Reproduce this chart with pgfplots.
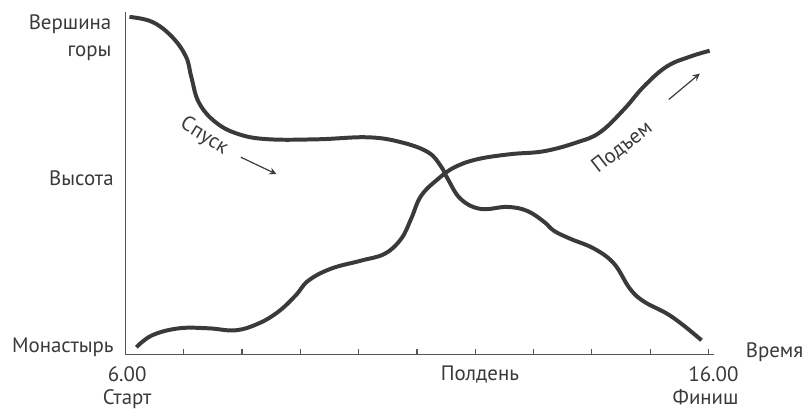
\documentclass[border=0pt]{standalone}
\usepackage{pgfplots}
\pgfplotsset{compat=1.18}
\usepackage{fontspec}
\setmainfont{PT Sans}
\definecolor{ink}{HTML}{3A3A3A}
\definecolor{axisgray}{HTML}{555555}
\begin{document}
\begin{tikzpicture}
\begin{axis}[
  at={(0,0)}, anchor=south west,
  scale only axis, width=296pt, height=172pt,
  xmin=6, xmax=16.1, ymin=0, ymax=344,
  axis lines=left,
  axis line style={axisgray, line width=0.6pt, -},
  xtick={6,...,16}, xticklabels={},
  ytick=\empty,
  major tick length=2.5pt,
  tick style={axisgray, line width=0.6pt},
  xtick align=inside,
  clip=false,
]
% Descent (Спуск)
\addplot[ink, line width=2pt, smooth, tension=0.65] coordinates {
(6.07,339) (6.46,334) (6.80,319) (7.04,299) (7.13,279) (7.26,253) (7.55,233)
(7.95,221) (8.46,216) (9.31,216) (10.16,218) (10.73,213) (11.19,203) (11.41,189)
(11.53,176) (11.75,156) (12.09,146) (12.55,148) (12.89,144) (13.18,133) (13.35,124)
(13.63,116) (14.04,106) (14.38,91) (14.65,66) (14.89,53) (15.28,41) (15.57,29) (15.88,14)
};
% Ascent (Подъем)
\addplot[ink, line width=2pt, smooth, tension=0.65] coordinates {
(6.19,7) (6.46,19) (6.92,26) (7.43,26) (7.89,24) (8.29,31) (8.63,43) (8.92,59)
(9.14,74) (9.53,86) (10.04,94) (10.45,101) (10.73,116) (10.90,136) (11.07,159)
(11.36,176) (11.65,188) (12.04,196) (12.60,201) (13.18,204) (13.75,213) (14.14,223)
(14.55,246) (14.89,269) (15.28,289) (15.68,299) (16.02,305)
};
% annotations
\node[ink, rotate=-32, font=\fontsize{10.5}{12}\selectfont] at (axis cs:7.35,219) {Спуск};
\draw[ink, line width=0.6pt, -stealth] (axis cs:7.98,198) -- (axis cs:8.59,181);
\node[ink, rotate=38, font=\fontsize{10.5}{12}\selectfont] at (axis cs:14.52,208) {Подъем};
\draw[ink, line width=0.6pt, -stealth] (axis cs:15.32,256) -- (axis cs:15.85,282);
% y labels
\node[ink, anchor=east, align=right, font=\fontsize{10.5}{13.5}\selectfont] at (axis cs:5.88,318) {Вершина\\горы};
\node[ink, anchor=east, font=\fontsize{10.5}{13}\selectfont] at (axis cs:5.92,177) {Высота};
\node[ink, anchor=east, font=\fontsize{10.5}{13}\selectfont] at (axis cs:5.92,7) {Монастырь};
% x labels
\node[ink, anchor=north, align=center, font=\fontsize{10.5}{12}\selectfont] at (axis cs:6.03,-5) {6.00\\Старт};
\node[ink, anchor=north, font=\fontsize{10.5}{12}\selectfont] at (axis cs:12.08,-5) {Полдень};
\node[ink, anchor=north, align=right, font=\fontsize{10.5}{12}\selectfont] at (axis cs:15.95,-5) {16.00\\Финиш};
\node[ink, anchor=west, font=\fontsize{10.5}{12}\selectfont] at (axis cs:16.52,2) {Время};
\end{axis}
\path (-63pt,-29pt) rectangle (342pt,178pt);
\end{tikzpicture}
\end{document}
